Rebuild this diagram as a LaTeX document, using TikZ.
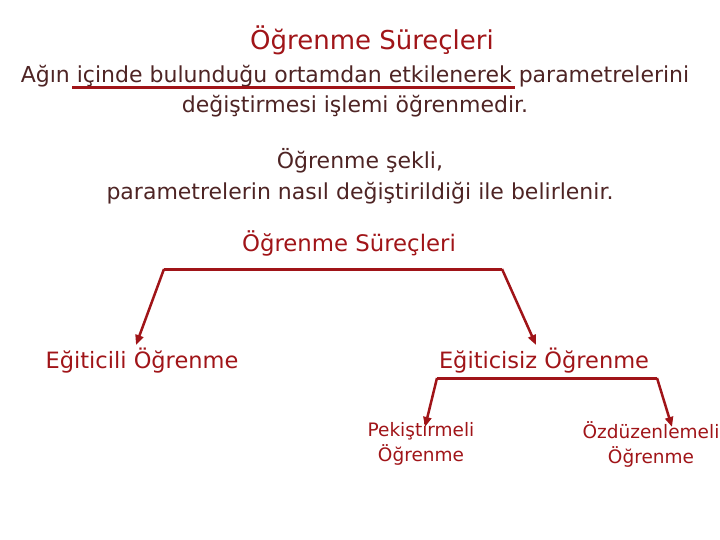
\documentclass[tikz,border=0pt]{standalone}
\usepackage{fontspec}
\setmainfont{DejaVu Sans}
\usetikzlibrary{arrows.meta}
\definecolor{txt}{RGB}{78,36,36}
\definecolor{redc}{RGB}{160,20,24}
\tikzset{
  body/.style={text=txt, font=\fontsize{22}{30.5}\selectfont, align=center, inner sep=0pt},
  title/.style={text=redc, font=\fontsize{26}{30}\selectfont, inner sep=0pt},
  head/.style={text=redc, font=\fontsize{22.8}{26}\selectfont, inner sep=0pt},
  leaf/.style={text=redc, font=\fontsize{22.5}{26}\selectfont, inner sep=0pt},
  small/.style={text=redc, font=\fontsize{18.5}{25}\selectfont, align=center, inner sep=0pt},
  bar/.style={draw=redc, line width=3pt},
  arr/.style={draw=redc, line width=2.5pt, -{Triangle[length=10pt,width=8pt]}}
}
\begin{document}
\begin{tikzpicture}[x=1pt,y=-1pt]
\useasboundingbox (0,0) rectangle (720,540);
\node[title] (title) at (372,40) {Öğrenme Süreçleri};
\node[body] (def) at (355,91) {Ağın içinde bulunduğu ortamdan etkilenerek parametrelerini\\değiştirmesi işlemi öğrenmedir.};
\coordinate (u1) at (72,88);
\coordinate (u2) at (515,88);
\draw[bar] (u1) -- (u2);
\node[body] (shape) at (360,176) {Öğrenme şekli,\\parametrelerin nasıl değiştirildiği ile belirlenir.};
\node[head] (proc) at (349,243) {Öğrenme Süreçleri};
\node[leaf] (sup) at (142,361) {Eğiticili Öğrenme};
\node[leaf] (uns) at (544,361) {Eğiticisiz Öğrenme};
\node[small] (rl) at (421,444) {Pekiştirmeli\\Öğrenme};
\node[small] (so) at (651,444) {Özdüzenlemeli\\Öğrenme};
\coordinate (b1) at (164,269);
\coordinate (b2) at (502,269);
\draw[bar] (b1) -- (b2);
\draw[arr] (b1) -- (136,345);
\draw[arr] (b2) -- (536,345);
\coordinate (c1) at (437,378);
\coordinate (c2) at (657,378);
\draw[bar] (c1) -- (c2);
\draw[arr] (c1) -- (425,427);
\draw[arr] (c2) -- (672,427);
\end{tikzpicture}
\end{document}
